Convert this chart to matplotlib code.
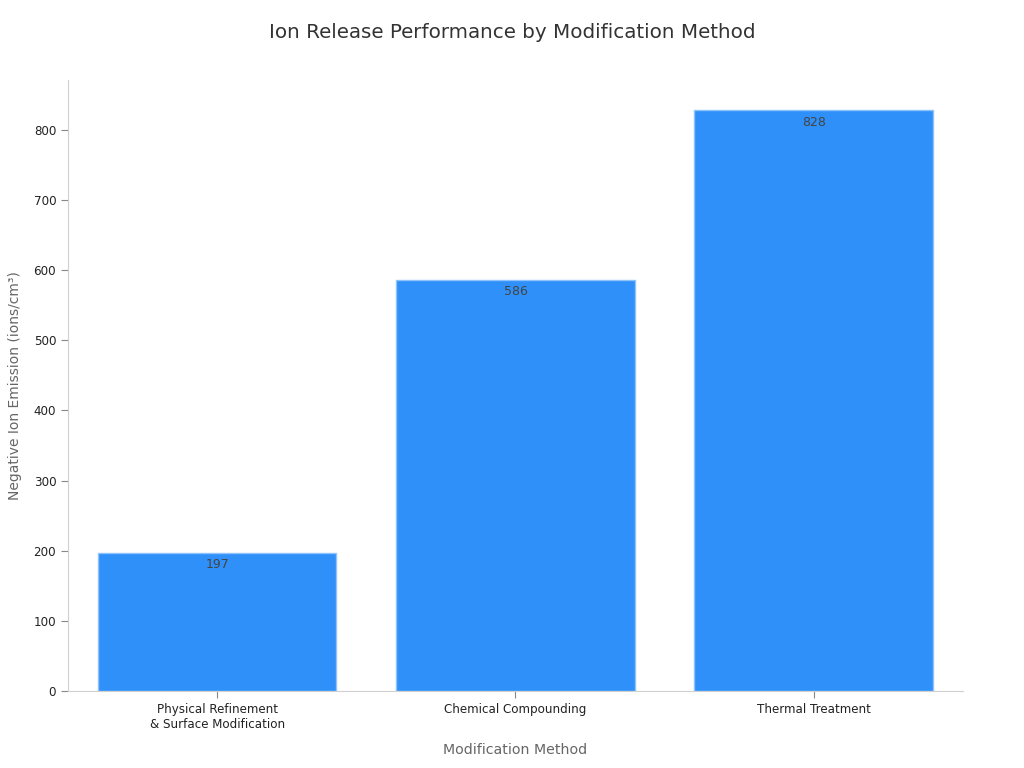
import matplotlib.pyplot as plt

categories = ["Physical Refinement\n& Surface Modification", "Chemical Compounding", "Thermal Treatment"]
emission = [197, 586, 828]

BAR_COLOR = "#2E90F8"
EDGE_COLOR = "#8EC3FB"

fig = plt.figure(figsize=(10.24, 7.68), dpi=100)
ax = fig.add_axes([0.0664, 0.1003, 0.874, 0.7955])

x = range(len(categories))
bars = ax.bar(x, emission, width=0.8, color=BAR_COLOR, edgecolor=EDGE_COLOR, linewidth=1)

for b, v in zip(bars, emission):
    ax.annotate(f"{v}", (b.get_x() + b.get_width() / 2, v), xytext=(0, -4),
                textcoords="offset points", ha="center", va="top",
                fontsize=9, color="#444444")

ax.set_xlim(-0.5, 2.5)
ax.set_ylim(0, 871)
ax.set_xticks(list(x))
ax.set_xticklabels(categories, fontsize=8.6, color="#222222")
ax.set_yticks(range(0, 801, 100))
ax.tick_params(axis="y", labelsize=8.6, colors="#222222")
ax.tick_params(axis="both", color="#888888", length=5)

for s in ["top", "right"]:
    ax.spines[s].set_visible(False)
for s in ["left", "bottom"]:
    ax.spines[s].set_color("#D0D0D0")

ax.set_xlabel("Modification Method", fontsize=10.2, color="#666666", labelpad=9)
ax.set_ylabel("Negative Ion Emission (ions/cm³)", fontsize=10, color="#666666", labelpad=8)
fig.suptitle("Ion Release Performance by Modification Method", fontsize=14.3, color="#333333", y=0.97)

plt.savefig("out.png", dpi=100)
